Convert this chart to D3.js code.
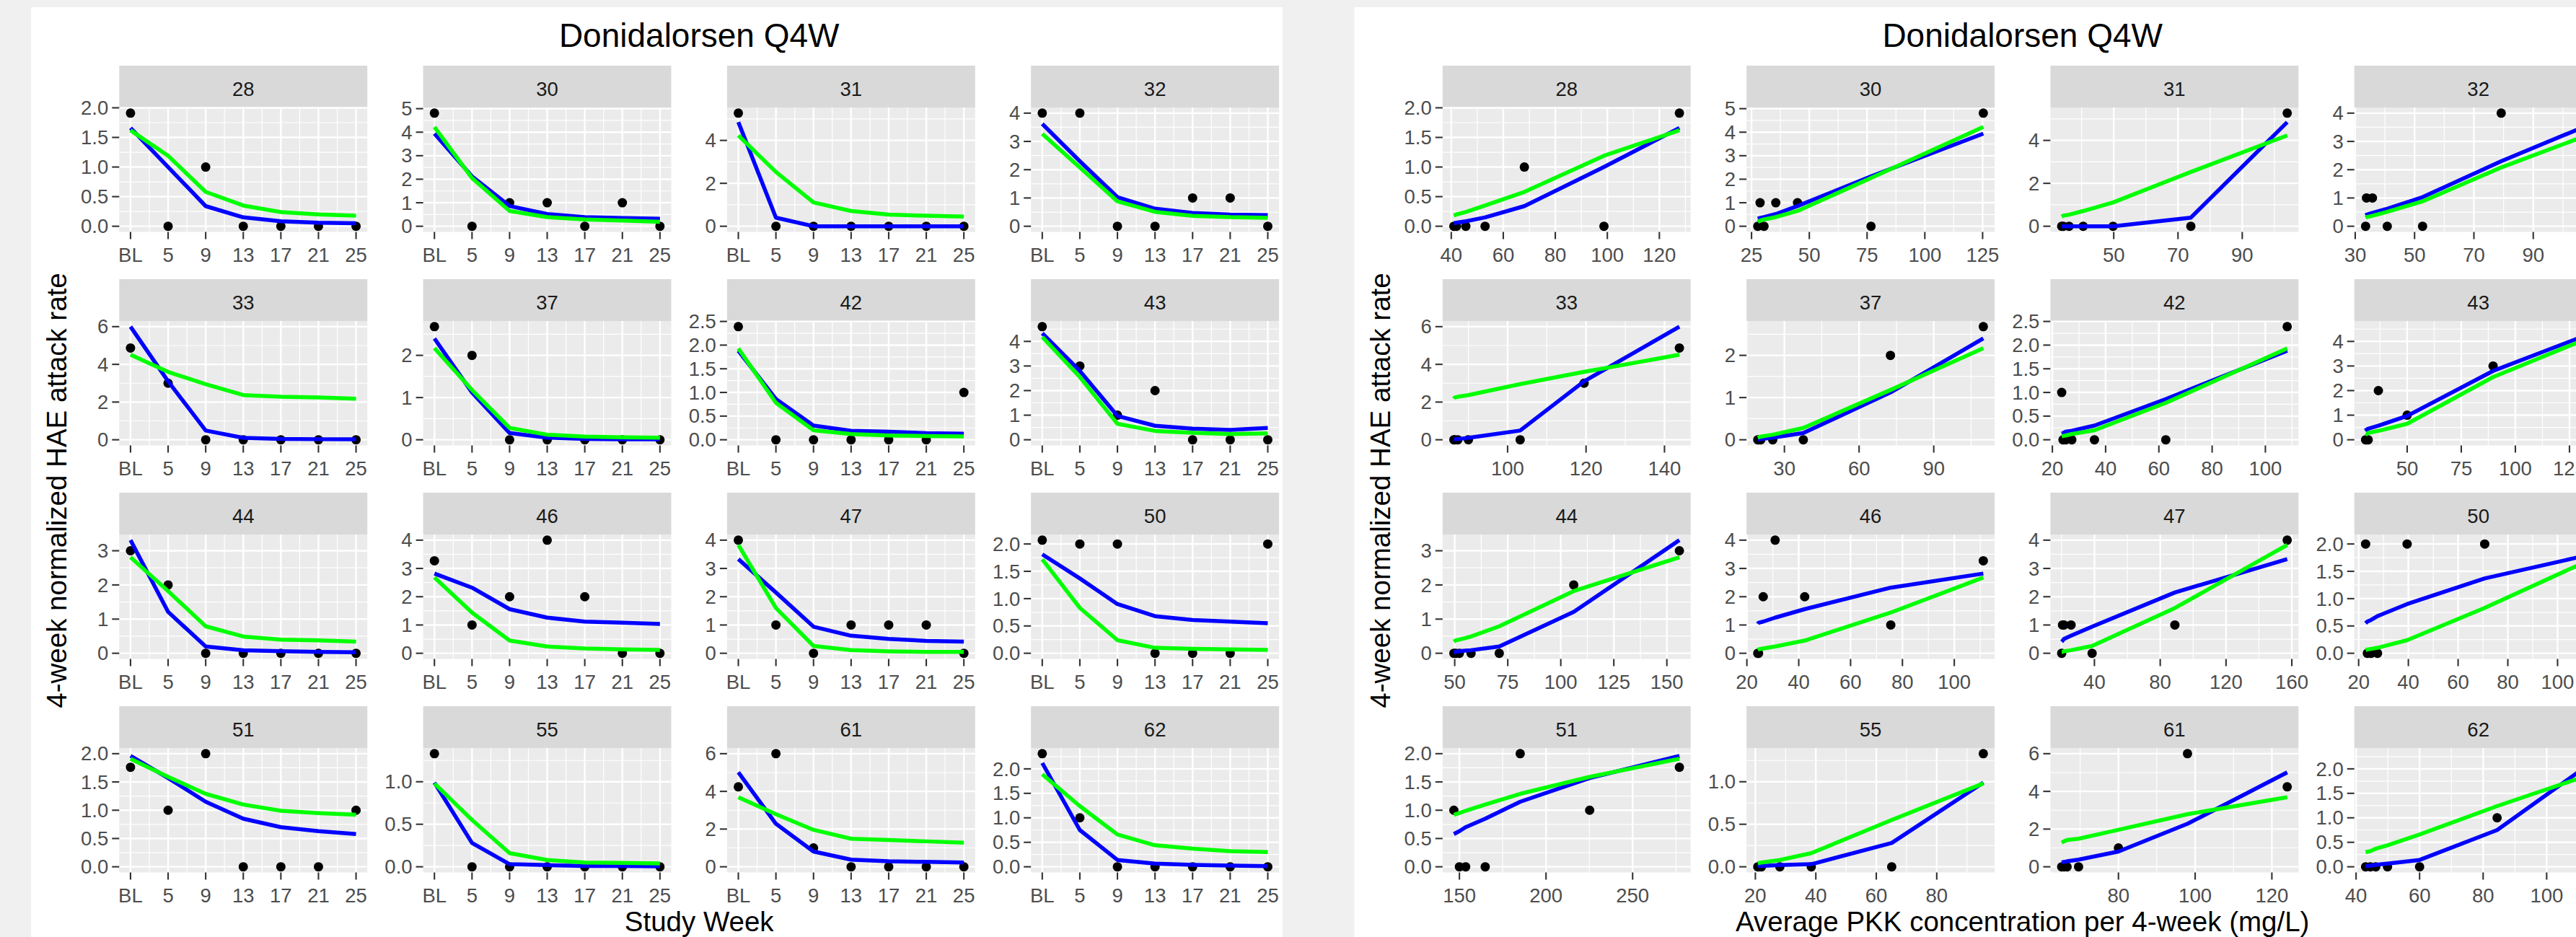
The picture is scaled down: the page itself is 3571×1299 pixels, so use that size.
<!DOCTYPE html>
<html>
<head>
<meta charset="utf-8">
<script src="https://d3js.org/d3.v7.min.js"></script>
<style>
  html, body { margin: 0; padding: 0; background: #f0f0f0; }
  svg { display: block; font-family: "Liberation Sans", Arial, sans-serif; }
</style>
</head>
<body>
<svg id="chart" width="3571" height="1299"></svg>
<script>

// subjects shown in the facets (reading order)
const subjects = ['28', '30', '31', '32', '33', '37', '42', '43', '44', '46', '47', '50', '51', '55', '61', '62'];

// study weeks (BL plotted at week 1)
const weeks = [1, 5, 9, 13, 17, 21, 25];
const weekLabels = ['BL', '5', '9', '13', '17', '21', '25'];

// observed 4-week normalized HAE attack rate, per subject, per week
const observed = [
  [1.91, 0, 1, 0, 0, 0, 0],
  [4.81, 0, 1, 1, 0, 1, 0],
  [5.27, 0, 0, 0, 0, 0, 0],
  [4, 4, 0, 0, 1, 1, 0],
  [4.87, 3, 0, 0, 0, 0, 0],
  [2.68, 2, 0, 0, 0, 0, 0],
  [2.39, 0, 0, 0, 0, 0, 1],
  [4.6, 3, 1, 2, 0, 0, 0],
  [3, 2, 0, 0, 0, 0, 0],
  [3.27, 1, 2, 4, 2, 0, 0],
  [4, 1, 0, 1, 1, 1, 0],
  [2.07, 2, 2, 0, 0, 0, 2],
  [1.76, 1, 2, 0, 0, 0, 1],
  [1.33, 0, 0, 0, 0, 0, 0],
  [4.24, 6, 1, 0, 0, 0, 0],
  [2.31, 1, 0, 0, 0, 0, 0]
];

// model predictions (blue line)
const predBlue = [
  [1.66, 1.0, 0.34, 0.15, 0.085, 0.06, 0.05],
  [3.94, 2.12, 0.86, 0.52, 0.39, 0.35, 0.32],
  [4.85, 0.4, 0.0, 0.0, 0.0, 0.0, 0.0],
  [3.62, 2.3, 1.03, 0.62, 0.47, 0.41, 0.39],
  [6.0, 3.1, 0.49, 0.1, 0.04, 0.03, 0.03],
  [2.4, 1.12, 0.16, 0.05, 0.02, 0.01, 0.01],
  [1.88, 0.86, 0.3, 0.19, 0.17, 0.14, 0.13],
  [4.33, 2.8, 0.97, 0.57, 0.45, 0.4, 0.48],
  [3.31, 1.21, 0.2, 0.09, 0.06, 0.04, 0.03],
  [2.82, 2.32, 1.56, 1.26, 1.12, 1.08, 1.04],
  [3.33, 2.15, 0.94, 0.62, 0.51, 0.44, 0.41],
  [1.81, 1.37, 0.9, 0.68, 0.61, 0.58, 0.55],
  [1.96, 1.57, 1.15, 0.85, 0.7, 0.63, 0.58],
  [0.99, 0.28, 0.03, 0.02, 0.01, 0.01, 0.005],
  [5.01, 2.28, 0.81, 0.38, 0.29, 0.26, 0.23],
  [2.12, 0.75, 0.14, 0.065, 0.04, 0.025, 0.015]
];

// model predictions (green line)
const predGreen = [
  [1.62, 1.19, 0.58, 0.35, 0.24, 0.2, 0.18],
  [4.22, 2.05, 0.65, 0.39, 0.29, 0.24, 0.19],
  [4.23, 2.53, 1.11, 0.71, 0.54, 0.49, 0.45],
  [3.27, 2.08, 0.88, 0.51, 0.37, 0.32, 0.3],
  [4.51, 3.6, 2.95, 2.37, 2.28, 2.24, 2.18],
  [2.17, 1.18, 0.28, 0.12, 0.075, 0.06, 0.05],
  [1.93, 0.78, 0.2, 0.12, 0.09, 0.08, 0.07],
  [4.18, 2.55, 0.65, 0.36, 0.28, 0.23, 0.26],
  [2.81, 1.82, 0.79, 0.49, 0.4, 0.38, 0.34],
  [2.68, 1.44, 0.45, 0.24, 0.17, 0.14, 0.12],
  [3.83, 1.6, 0.26, 0.11, 0.07, 0.05, 0.05],
  [1.72, 0.83, 0.24, 0.1, 0.08, 0.07, 0.06],
  [1.91, 1.59, 1.29, 1.1, 0.99, 0.95, 0.92],
  [0.98, 0.55, 0.16, 0.08, 0.05, 0.045, 0.04],
  [3.69, 2.79, 1.96, 1.49, 1.42, 1.35, 1.28],
  [1.89, 1.24, 0.66, 0.44, 0.37, 0.32, 0.3]
];

// average PKK concentration per 4-week (mg/L), per subject, per week
const pkkConc = [
  [127.7, 98.7, 68.1, 53.0, 45.6, 42.0, 41.0],
  [125.3, 76.7, 44.9, 35.5, 30.4, 28.7, 27.7],
  [104.0, 74.0, 49.8, 40.5, 36.1, 34.3, 33.8],
  [109.5, 79.2, 52.7, 40.8, 35.8, 33.8, 33.5],
  [143.8, 119.5, 103.2, 90.0, 87.3, 86.5, 86.3],
  [109.9, 72.6, 37.6, 25.3, 20.5, 19.8, 19.3],
  [108.2, 62.6, 35.8, 27.3, 25.0, 24.0, 23.5],
  [135.0, 89.7, 50.0, 36.7, 32.0, 31.4, 30.8],
  [155.9, 106.1, 71.0, 57.7, 52.2, 50.5, 49.6],
  [111.2, 75.5, 42.3, 30.9, 26.3, 24.5, 24.2],
  [157.2, 88.9, 38.6, 25.8, 21.5, 20.6, 20.1],
  [113.5, 70.7, 39.5, 27.6, 25.0, 23.5, 22.8],
  [277.0, 225.2, 185.1, 164.9, 153.6, 150.0, 146.8],
  [95.4, 65.1, 38.5, 28.1, 22.0, 21.2, 20.8],
  [124.0, 98.0, 80.0, 69.6, 66.6, 65.8, 65.2],
  [114.0, 84.4, 60.0, 49.9, 46.2, 44.5, 43.0]
];

// y tick values per facet
const rateTicks = [
  [0, 0.5, 1, 1.5, 2], [0, 1, 2, 3, 4, 5], [0, 2, 4], [0, 1, 2, 3, 4],
  [0, 2, 4, 6], [0, 1, 2], [0, 0.5, 1, 1.5, 2, 2.5], [0, 1, 2, 3, 4],
  [0, 1, 2, 3], [0, 1, 2, 3, 4], [0, 1, 2, 3, 4], [0, 0.5, 1, 1.5, 2],
  [0, 0.5, 1, 1.5, 2], [0, 0.5, 1], [0, 2, 4, 6], [0, 0.5, 1, 1.5, 2]
];

// x tick values per facet for the concentration plot
const concTicks = [
  [40, 60, 80, 100, 120], [25, 50, 75, 100, 125], [30, 50, 70, 90, 110], [30, 50, 70, 90, 110],
  [80, 100, 120, 140], [0, 30, 60, 90, 120], [20, 40, 60, 80, 100], [25, 50, 75, 100, 125],
  [50, 75, 100, 125, 150], [20, 40, 60, 80, 100], [0, 40, 80, 120, 160], [20, 40, 60, 80, 100],
  [150, 200, 250], [20, 40, 60, 80], [60, 80, 100, 120], [40, 60, 80, 100]
];

const titleText = 'Donidalorsen Q4W';
const yTitle = '4-week normalized HAE attack rate';

/* layout */
const svg = d3.select('#chart');
const panelX0 = 165.3, colStep = 421.3, panelW = 343.9;
const stripY0 = 91, rowStep = 296, stripH = 58, panelH = 172.5;
const plotShift = 1834.5;
const axisFont = 27.5;

svg.append('rect').attr('width', 3571).attr('height', 1299).attr('fill', '#f0f0f0');
svg.append('rect').attr('x', 43).attr('y', 10).attr('width', 1735).attr('height', 1289).attr('fill', '#ffffff');
svg.append('rect').attr('x', 43 + plotShift).attr('y', 10).attr('width', 1735).attr('height', 1289).attr('fill', '#ffffff');

const expand = ([a, b]) => [a - (b - a) * 0.05, b + (b - a) * 0.05];

function minorBreaks(major, dom) {
  const step = major[1] - major[0];
  const ext = [major[0] - step, ...major, major[major.length - 1] + step];
  const out = [];
  for (let k = 0; k < ext.length - 1; k++) {
    const m = (ext[k] + ext[k + 1]) / 2;
    if (m >= dom[0] && m <= dom[1]) out.push(m);
  }
  return out;
}

function drawPlot(ox, mode, xTitle) {
  const g = svg.append('g');

  g.append('text')
    .attr('x', ox + panelX0 + (3 * colStep + panelW) / 2)
    .attr('y', 65)
    .attr('text-anchor', 'middle')
    .attr('font-size', 46)
    .attr('fill', '#000')
    .text(titleText);

  g.append('text')
    .attr('transform', `translate(${ox + 92},680) rotate(-90)`)
    .attr('text-anchor', 'middle')
    .attr('font-size', 38.5)
    .attr('fill', '#000')
    .text(yTitle);

  g.append('text')
    .attr('x', ox + panelX0 + (3 * colStep + panelW) / 2)
    .attr('y', 1291)
    .attr('text-anchor', 'middle')
    .attr('font-size', 38.5)
    .attr('fill', '#000')
    .text(xTitle);

  subjects.forEach((id, i) => {
    const col = i % 4, row = Math.floor(i / 4);
    const px = ox + panelX0 + col * colStep;
    const sy = stripY0 + row * rowStep;
    const py = sy + stripH;

    const xs = mode === 'week' ? weeks : pkkConc[i];
    const xDom = expand(d3.extent(xs));
    const yDom = expand(d3.extent([...observed[i], ...predBlue[i], ...predGreen[i]]));

    const x = d3.scaleLinear().domain(xDom).range([px, px + panelW]);
    const y = d3.scaleLinear().domain(yDom).range([py + panelH, py]);

    const xMajor = (mode === 'week' ? weeks : concTicks[i]).filter(v => v >= xDom[0] && v <= xDom[1]);
    const yMajor = rateTicks[i].filter(v => v >= yDom[0] && v <= yDom[1]);

    const f = g.append('g');

    // strip
    f.append('rect').attr('x', px).attr('y', sy).attr('width', panelW).attr('height', stripH).attr('fill', '#d9d9d9');
    f.append('text')
      .attr('x', px + panelW / 2).attr('y', sy + 42)
      .attr('text-anchor', 'middle').attr('font-size', axisFont).attr('fill', '#1a1a1a')
      .text(id);

    // panel + grid
    f.append('rect').attr('x', px).attr('y', py).attr('width', panelW).attr('height', panelH).attr('fill', '#ebebeb');

    const grid = f.append('g').attr('stroke', '#ffffff').attr('fill', 'none');
    minorBreaks(yMajor, yDom).forEach(v => {
      grid.append('line').attr('x1', px).attr('x2', px + panelW).attr('y1', y(v)).attr('y2', y(v)).attr('stroke-width', 1.2);
    });
    minorBreaks(xMajor, xDom).forEach(v => {
      grid.append('line').attr('y1', py).attr('y2', py + panelH).attr('x1', x(v)).attr('x2', x(v)).attr('stroke-width', 1.2);
    });
    yMajor.forEach(v => {
      grid.append('line').attr('x1', px).attr('x2', px + panelW).attr('y1', y(v)).attr('y2', y(v)).attr('stroke-width', 2.4);
    });
    xMajor.forEach(v => {
      grid.append('line').attr('y1', py).attr('y2', py + panelH).attr('x1', x(v)).attr('x2', x(v)).attr('stroke-width', 2.4);
    });

    // observed points
    f.append('g').selectAll('circle')
      .data(xs.map((v, k) => [v, observed[i][k]]))
      .join('circle')
      .attr('cx', d => x(d[0])).attr('cy', d => y(d[1])).attr('r', 6.5)
      .attr('fill', '#000');

    // predicted lines, sorted along x
    const line = d3.line().x(d => x(d[0])).y(d => y(d[1]));
    [[predBlue[i], '#0000ff'], [predGreen[i], '#00ff00']].forEach(([vals, col]) => {
      const pts = xs.map((v, k) => [v, vals[k]]).sort((a, b) => a[0] - b[0]);
      f.append('path').attr('d', line(pts))
        .attr('fill', 'none').attr('stroke', col).attr('stroke-width', 5.5)
        .attr('stroke-linejoin', 'round');
    });

    // y axis
    const yFmt = yMajor.some(v => !Number.isInteger(v)) ? d3.format('.1f') : d3.format('d');
    yMajor.forEach(v => {
      f.append('line').attr('x1', px - 10).attr('x2', px).attr('y1', y(v)).attr('y2', y(v))
        .attr('stroke', '#333333').attr('stroke-width', 2.1);
      f.append('text').attr('x', px - 15).attr('y', y(v)).attr('dy', '0.35em')
        .attr('text-anchor', 'end').attr('font-size', axisFont).attr('fill', '#4d4d4d')
        .text(yFmt(v));
    });

    // x axis
    xMajor.forEach((v, k) => {
      f.append('line').attr('x1', x(v)).attr('x2', x(v)).attr('y1', py + panelH).attr('y2', py + panelH + 10)
        .attr('stroke', '#333333').attr('stroke-width', 2.1);
      f.append('text').attr('x', x(v)).attr('y', py + panelH + 41)
        .attr('text-anchor', 'middle').attr('font-size', axisFont).attr('fill', '#4d4d4d')
        .text(mode === 'week' ? weekLabels[weeks.indexOf(v)] : d3.format('d')(v));
    });
  });
}

drawPlot(0, 'week', 'Study Week');
drawPlot(plotShift, 'conc', 'Average PKK concentration per 4-week (mg/L)');

</script>
</body>
</html>
